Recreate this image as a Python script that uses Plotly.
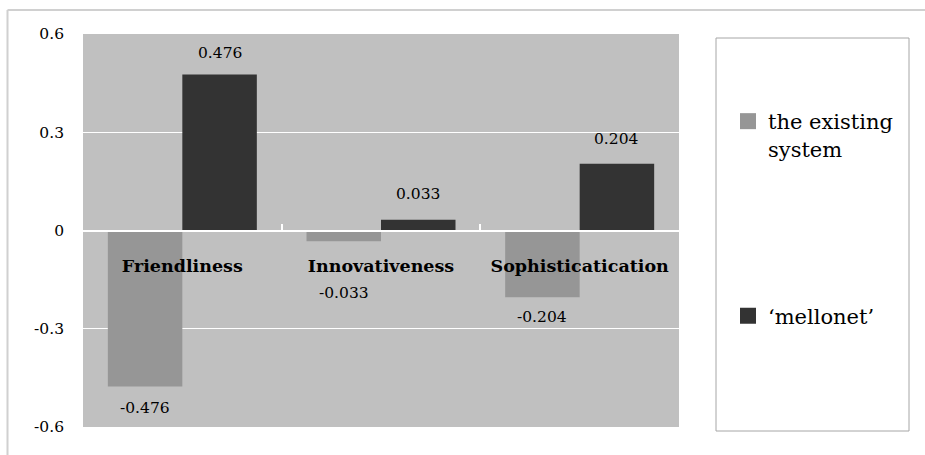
import plotly.graph_objects as go

# ---- data ----
categories = ["Friendliness", "Innovativeness", "Sophisticatication"]
existing_system = [-0.476, -0.033, -0.204]
mellonet = [0.476, 0.033, 0.204]
series_names = ["the existing<br>system", "\u2018mellonet\u2019"]
y_ticks = [0.6, 0.3, 0, -0.3, -0.6]
y_tick_labels = ["0.6", "0.3", "0", "-0.3", "-0.6"]

# ---- styling ----
FONT = "DejaVu Serif"
C_EXIST = "#969696"
C_MELLO = "#333333"
PLOT_BG = "#c0c0c0"
W, H = 925, 455
L, R, T, B = 83, 246, 34, 28
PW, PH = W - L - R, H - T - B

# vertical pixel offset of each value label from its bar end
shift_existing = [-22, -52, -20]
shift_mellonet = [22, 26, 25]


def px_x(px):
    return (px - L) / PW


def px_y(py):
    return (H - B - py) / PH


fig = go.Figure()

fig.add_trace(go.Bar(x=categories, y=existing_system, name=series_names[0],
                     marker=dict(color=C_EXIST, line=dict(width=0)),
                     offsetgroup="a", legendgroup="a", showlegend=False,
                     hoverinfo="y"))
fig.add_trace(go.Bar(x=categories, y=mellonet, name=series_names[1],
                     marker=dict(color=C_MELLO, line=dict(width=0)),
                     offsetgroup="b", legendgroup="b", showlegend=False,
                     hoverinfo="y"))

# legend entries with larger square swatches
for name, col, grp in [(series_names[0], C_EXIST, "a"), (series_names[1], C_MELLO, "b")]:
    fig.add_trace(go.Scatter(x=[None], y=[None], mode="markers", name=name,
                             legendgroup=grp,
                             marker=dict(symbol="square", size=16, color=col)))

# value labels
group_w = 0.75
half = group_w / 4
for i, cat in enumerate(categories):
    for vals, dx, shifts in [(existing_system, -half, shift_existing),
                             (mellonet, half, shift_mellonet)]:
        v = vals[i]
        fig.add_annotation(x=i + dx, y=v, text=f"{v:.3f}", showarrow=False,
                           yshift=shifts[i], xanchor="center", yanchor="middle",
                           font=dict(family=FONT, size=15.5, color="#000000"))

# legend frame
fig.add_shape(type="rect", xref="paper", yref="paper",
              x0=px_x(716), x1=px_x(909), y0=px_y(431), y1=px_y(38),
              line=dict(color="#a6a6a6", width=1), fillcolor="rgba(0,0,0,0)",
              layer="below")
# outer chart frame (left and top edges)
fig.add_shape(type="line", xref="paper", yref="paper",
              x0=px_x(7.5), x1=px_x(7.5), y0=px_y(10), y1=px_y(460),
              line=dict(color="#d0d0d0", width=2))
fig.add_shape(type="line", xref="paper", yref="paper",
              x0=px_x(7.5), x1=px_x(930), y0=px_y(10), y1=px_y(10),
              line=dict(color="#d0d0d0", width=2))

fig.update_layout(
    width=W, height=H,
    margin=dict(l=L, r=R, t=T, b=B, pad=0),
    paper_bgcolor="#ffffff",
    plot_bgcolor=PLOT_BG,
    bargap=0.25, bargroupgap=0,
    barmode="group",
    font=dict(family=FONT, color="#000000", size=15.5),
    showlegend=True,
    legend=dict(x=px_x(728), y=px_y(101), xanchor="left", yanchor="top",
                valign="top", traceorder="grouped", tracegroupgap=137,
                font=dict(family=FONT, size=21, color="#000000"),
                bgcolor="rgba(0,0,0,0)", borderwidth=0, itemclick=False),
    xaxis=dict(
        type="category", anchor="free", position=0.5, side="bottom",
        showline=True, linecolor="#ffffff", linewidth=2,
        ticks="inside", tickson="boundaries", ticklen=6, tickcolor="#ffffff",
        tickwidth=1.5, showgrid=False, zeroline=False,
        tickfont=dict(family=FONT, size=17.5, color="#000000", weight="bold"),
        ticklabelstandoff=19, range=[-0.5, 2.5],
    ),
    yaxis=dict(
        range=[-0.6, 0.6], tickvals=y_ticks, ticktext=y_tick_labels,
        showgrid=True, gridcolor="#ffffff", gridwidth=1, zeroline=False,
        ticks="", ticklabelstandoff=18, showline=False,
        tickfont=dict(family=FONT, size=15.5, color="#000000"),
    ),
)

fig.write_html("out.html")
